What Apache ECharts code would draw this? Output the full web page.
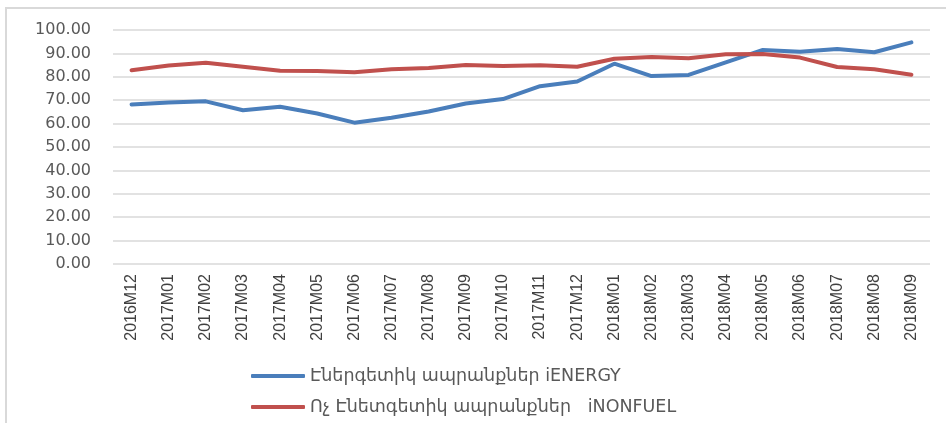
<!DOCTYPE html>
<html>
<head>
<meta charset="utf-8">
<script src="https://cdn.jsdelivr.net/npm/echarts@6/dist/echarts.min.js"></script>
<style>
  html, body { margin: 0; padding: 0; background: #fff; }
  #chart { width: 946px; height: 423px; }
  #frame {
    position: absolute; left: 5px; top: 7px; width: 941px; height: 416px;
    border-left: 2px solid #d9d9d9; border-top: 2px solid #d9d9d9;
    box-sizing: border-box; pointer-events: none;
  }
</style>
</head>
<body>
<div id="chart"></div>
<div id="frame"></div>
<script>
const months = [
  '2016M12', '2017M01', '2017M02', '2017M03', '2017M04', '2017M05', '2017M06',
  '2017M07', '2017M08', '2017M09', '2017M10', '2017M11', '2017M12',
  '2018M01', '2018M02', '2018M03', '2018M04', '2018M05', '2018M06',
  '2018M07', '2018M08', '2018M09'
];
const energy = [
  68.2, 69.0, 69.5, 65.7, 67.2, 64.3, 60.4,
  62.5, 65.2, 68.6, 70.5, 76.0, 78.0,
  85.6, 80.3, 80.8, 86.2, 91.5, 90.7,
  91.9, 90.5, 94.7
];
const nonfuel = [
  82.8, 84.8, 86.0, 84.3, 82.6, 82.5, 81.9,
  83.2, 83.8, 85.0, 84.6, 84.9, 84.3,
  87.7, 88.5, 87.9, 89.6, 89.7, 88.2,
  84.2, 83.2, 80.9
];
const names = ['Էներգետիկ ապրանքներ iENERGY', 'Ոչ Էնետգետիկ ապրանքներ   iNONFUEL'];

const chart = echarts.init(document.getElementById('chart'));
chart.setOption({
  animation: false,
  textStyle: { fontFamily: 'DejaVu Sans' },
  grid: { left: 113, right: 16, top: 30, bottom: 159 },
  legend: {
    orient: 'vertical', left: 246, top: 362,
    itemWidth: 54, itemHeight: 4, itemGap: 13, icon: 'roundRect',
    textStyle: { fontSize: 17.5, color: '#595959', fontFamily: 'DejaVu Sans' },
    data: names
  },
  xAxis: {
    type: 'category', data: months, boundaryGap: true,
    axisLine: { show: false }, axisTick: { show: false },
    axisLabel: { rotate: 90, interval: 0, margin: 10, fontSize: 16, color: '#404040', fontFamily: 'Liberation Sans' }
  },
  yAxis: {
    type: 'value', min: 0, max: 100, interval: 10,
    axisLine: { show: false }, axisTick: { show: false },
    axisLabel: { margin: 22, fontSize: 16, color: '#595959', formatter: v => v.toFixed(2) },
    splitLine: { lineStyle: { color: '#d9d9d9', width: 1.5 } }
  },
  series: [
    { name: names[0], type: 'line', data: energy, symbol: 'none',
      lineStyle: { width: 4, color: '#4a7ebb', cap: 'round' }, itemStyle: { color: '#4a7ebb' } },
    { name: names[1], type: 'line', data: nonfuel, symbol: 'none',
      lineStyle: { width: 4, color: '#c0504d', cap: 'round' }, itemStyle: { color: '#c0504d' } }
  ]
});
</script>
</body>
</html>
